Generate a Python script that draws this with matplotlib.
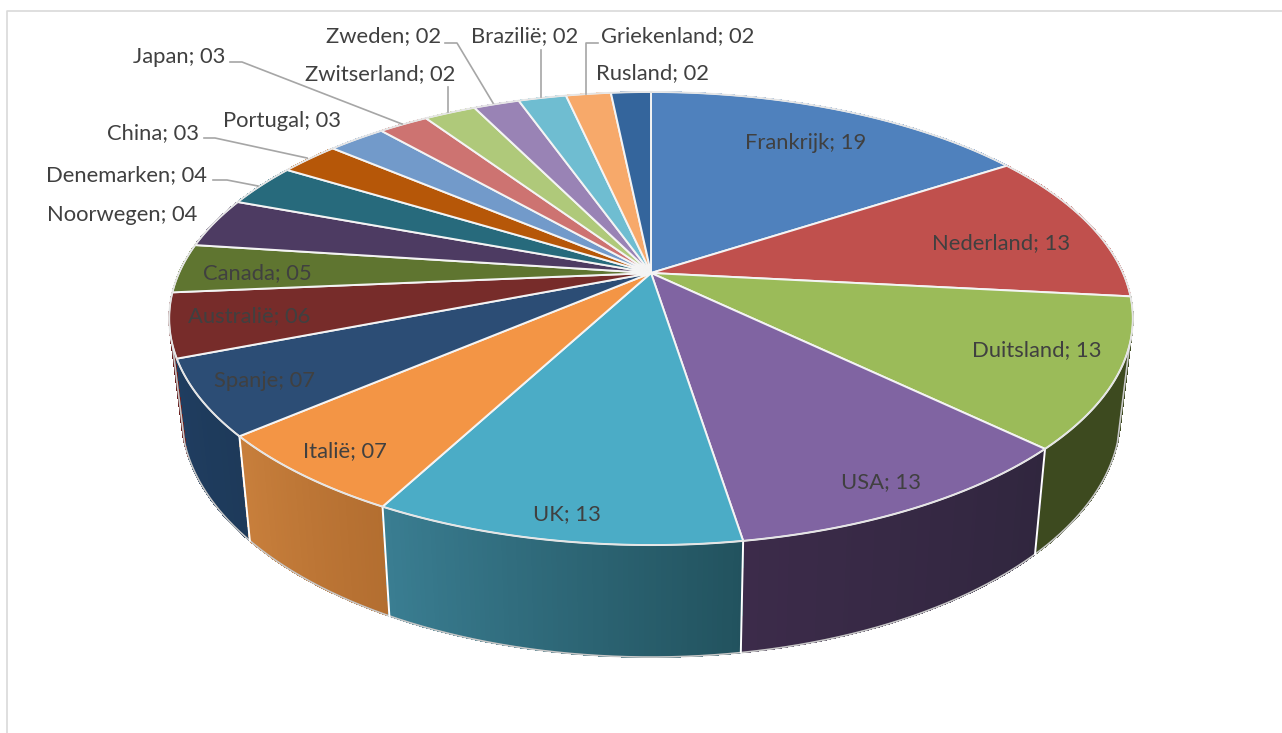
import numpy as np
import matplotlib
matplotlib.use("Agg")
import matplotlib.pyplot as plt
from matplotlib.collections import PolyCollection
from matplotlib.colors import to_rgb

# ---- data ----
countries = ["Frankrijk", "Nederland", "Duitsland", "USA", "UK", "Italië", "Spanje",
             "Australië", "Canada", "Noorwegen", "Denemarken", "China", "Portugal",
             "Japan", "Zwitserland", "Zweden", "Brazilië", "Griekenland", "Rusland"]
values = [19.4, 13.4, 13.0, 12.6, 12.6, 7.3, 6.6, 5.6, 4.3, 4.4, 3.8, 3.0, 2.9,
          2.5, 2.6, 2.3, 2.4, 2.25, 2.0]
shown = ["19", "13", "13", "13", "13", "07", "07", "06", "05", "04", "04", "03", "03",
         "03", "02", "02", "02", "02", "02"]

# ---- styles ----
top_colors = ["#4F81BD", "#C0504D", "#9BBB59", "#8064A2", "#4BACC6", "#F39545", "#2C4D75",
              "#772C2A", "#5F7530", "#4D3B62", "#276A7C", "#B65708", "#729ACA", "#CD7371",
              "#AFC97A", "#9983B5", "#6FBDD1", "#F7A96A", "#34659C"]
side_start = {2: "#3D4A1F", 3: "#30263E", 4: "#22525E", 5: "#B36E30", 6: "#1E3A5A", 7: "#6B2020"}
side_end = {2: "#3D4A1F", 3: "#3C2B4A", 4: "#3A7E92", 5: "#C87F3C", 6: "#1F3D60", 7: "#6B2020"}
label_pos = [(806, 143), (1001, 243), (1037, 350), (881, 482), (567, 514), (345, 451),
             (264, 381), (249, 316), (257, 273), (122, 215), (126, 175), (153, 133),
             (282, 121), (179, 57), (380, 74), (384, 36), (525, 36), (678, 36), (652, 73)]
leaders = [[(230, 62), (242, 62), (402, 124)],
           [(445, 43), (457, 43), (493, 103)],
           [(541, 50), (541, 97)],
           [(598, 43), (586, 43), (586, 94)],
           [(448, 87), (448, 112)],
           [(204, 138), (215, 138), (307, 158)],
           [(213, 180), (227, 180), (258, 186)]]

K = 0.2009
TOP = dict(cx=651.0, cy=273.0, a=472.0, b=217.4)
BOT = dict(cx=651.0, cy=366.0, a=460.0, b=232.6)


def proj(theta, face):
    """Perspective view of the unit circle; theta is clockwise from 12 o'clock."""
    theta = np.atleast_1d(theta)
    X, Y = np.sin(theta), np.cos(theta)
    w = 1 + K * Y
    return np.column_stack([face["cx"] + face["a"] * X / w, face["cy"] - face["b"] * Y / w])


fig = plt.figure(figsize=(12.82, 7.33), dpi=100)
ax = fig.add_axes([0, 0, 1, 1])
ax.set_xlim(0, 1282)
ax.set_ylim(733, 0)
ax.axis("off")

# chart frame
ax.plot([6.5, 6.5, 1282], [733, 10.5, 10.5], color="#D9D9D9", lw=1.2, zorder=1)

edges = np.radians(np.concatenate([[0], np.cumsum(values)]) * 360 / np.sum(values))

# sides, back to front
quads, colors, depth = [], [], []
for i in range(len(values)):
    n = max(int(np.degrees(edges[i + 1] - edges[i]) * 2), 2)
    th = np.linspace(edges[i], edges[i + 1], n + 1)
    c0 = np.array(to_rgb(side_start.get(i, top_colors[i])))
    c1 = np.array(to_rgb(side_end.get(i, top_colors[i])))
    pt, pb = proj(th, TOP), proj(th, BOT)
    for j in range(n):
        quads.append([pt[j], pt[j + 1], pb[j + 1], pb[j]])
        colors.append(tuple(c0 + (c1 - c0) * (j + 0.5) / n))
        depth.append(np.cos((th[j] + th[j + 1]) / 2))
order = np.argsort(depth)[::-1]
ax.add_collection(PolyCollection([quads[o] for o in order], facecolors=[colors[o] for o in order],
                                 edgecolors=[colors[o] for o in order], linewidths=0.6,
                                 antialiaseds=False, zorder=2))

# outer outline of the side wall, with the two tangent edges
arc = np.radians(np.linspace(108, 252, 400))
pb = proj(arc, BOT)
first_t, last_t = proj(arc[0], TOP)[0], proj(arc[-1], TOP)[0]
outline = np.vstack([first_t, pb, last_t])
ax.plot(outline[:, 0], outline[:, 1], color="#C8C8C8", lw=1.2, zorder=3)

# white seams between side walls
for e in edges:
    if np.pi * 0.55 < e < np.pi * 1.3:
        a, b = proj(e, TOP)[0], proj(e, BOT)[0]
        ax.plot([a[0], b[0]], [a[1], b[1]], color="white", lw=1.4, zorder=3)

# top face
for i in range(len(values)):
    n = max(int(np.degrees(edges[i + 1] - edges[i]) * 2), 2)
    th = np.linspace(edges[i], edges[i + 1], n + 1)
    pts = np.vstack([[TOP["cx"], TOP["cy"]], proj(th, TOP)])
    ax.fill(pts[:, 0], pts[:, 1], facecolor=top_colors[i], edgecolor="#F4F4F4", lw=1.4,
            joinstyle="round", zorder=4)

# outline of top rim
arc = np.linspace(0, 2 * np.pi, 800)
rim = proj(arc, TOP)
ax.plot(rim[:, 0], rim[:, 1], color="#E4E4E4", lw=1.0, zorder=5)

# leader lines
for line in leaders:
    xs, ys = zip(*line)
    ax.plot(xs, ys, color="#A6A6A6", lw=1.2, zorder=6)

# data labels
for name, val, (x, y) in zip(countries, shown, label_pos):
    ax.text(x, y, f"{name}; {val}", ha="center", va="center", family="Lato",
            fontsize=15.8, color="#404040", zorder=7)

fig.savefig("out.png", dpi=100)
